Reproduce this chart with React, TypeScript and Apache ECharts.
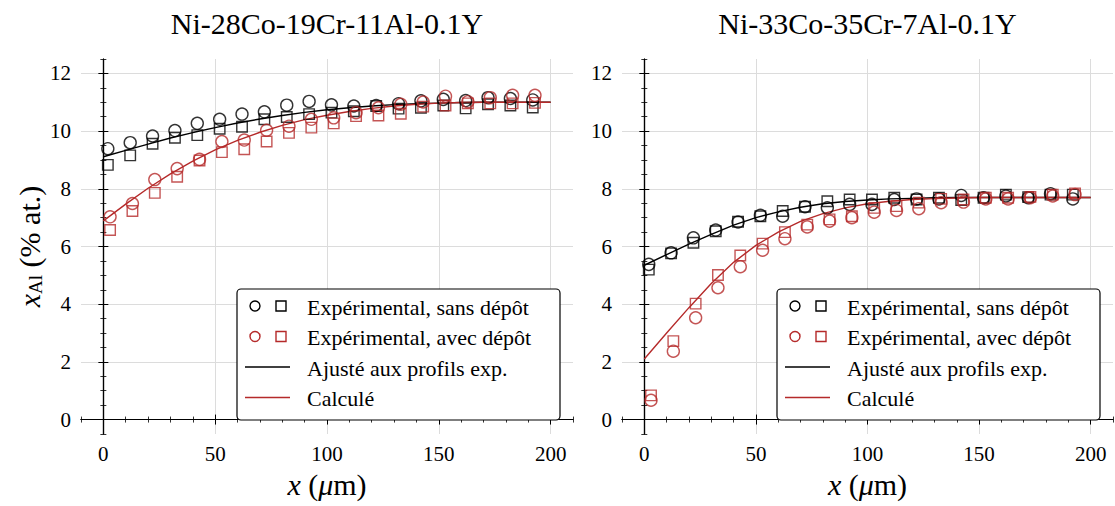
import React, { useEffect, useRef } from "react";
import * as echarts from "echarts";

const FONT = "Liberation Serif";
const RED = "#b52a2a";
const BLACK = "#000000";

const titles = ["Ni-28Co-19Cr-11Al-0.1Y", "Ni-33Co-35Cr-7Al-0.1Y"];
const legendLabels = [
  "Expérimental, sans dépôt",
  "Expérimental, avec dépôt",
  "Ajusté aux profils exp.",
  "Calculé",
];
const xTicks = [0, 50, 100, 150, 200];
const yTicks = [0, 2, 4, 6, 8, 10, 12];

const expXBlack = [2, 12, 22, 32, 42, 52, 62, 72, 82, 92, 102, 112, 122, 132, 142, 152, 162, 172, 182, 192];
const expXRed = [3, 13, 23, 33, 43, 53, 63, 73, 83, 93, 103, 113, 123, 133, 143, 153, 163, 173, 183, 193];
const curveX = [0, 10, 20, 30, 40, 50, 60, 70, 80, 90, 100, 110, 120, 130, 140, 150, 160, 170, 180, 190, 200];

// Left panel: Ni-28Co-19Cr-11Al-0.1Y
const leftSansCircle = [9.39, 9.6, 9.83, 10.02, 10.27, 10.41, 10.59, 10.67, 10.9, 11.03, 10.91, 10.87, 10.89, 10.95, 11.05, 11.1, 11.06, 11.16, 11.13, 11.08];
const leftSansSquare = [8.83, 9.16, 9.56, 9.77, 9.86, 10.08, 10.15, 10.41, 10.49, 10.59, 10.64, 10.69, 10.87, 10.78, 10.81, 10.89, 10.79, 10.93, 10.89, 10.82];
const leftAvecCircle = [7.03, 7.49, 8.32, 8.7, 9.02, 9.64, 9.69, 10.03, 10.17, 10.41, 10.46, 10.64, 10.81, 10.93, 11.01, 11.21, 11.02, 11.16, 11.24, 11.24];
const leftAvecSquare = [6.57, 7.23, 7.86, 8.42, 8.98, 9.27, 9.37, 9.64, 9.94, 10.12, 10.27, 10.52, 10.54, 10.6, 10.85, 10.89, 10.96, 10.96, 10.96, 10.98];
const leftFit = [9.11, 9.33, 9.55, 9.76, 9.95, 10.12, 10.28, 10.42, 10.54, 10.65, 10.74, 10.81, 10.87, 10.92, 10.95, 10.97, 10.99, 11.0, 11.0, 11.0, 11.0];
const leftCalc = [6.89, 7.47, 8.02, 8.52, 8.96, 9.35, 9.68, 9.96, 10.2, 10.4, 10.55, 10.68, 10.79, 10.87, 10.93, 10.97, 10.99, 11.0, 11.0, 11.0, 11.0];

// Right panel: Ni-33Co-35Cr-7Al-0.1Y
const rightSansCircle = [5.38, 5.78, 6.3, 6.57, 6.85, 7.08, 7.05, 7.38, 7.34, 7.46, 7.46, 7.63, 7.65, 7.65, 7.77, 7.69, 7.75, 7.69, 7.83, 7.65];
const rightSansSquare = [5.2, 5.76, 6.13, 6.53, 6.86, 7.05, 7.23, 7.38, 7.57, 7.63, 7.63, 7.69, 7.63, 7.69, 7.61, 7.69, 7.8, 7.71, 7.8, 7.8];
const rightAvecCircle = [0.67, 2.37, 3.53, 4.57, 5.3, 5.87, 6.27, 6.68, 6.88, 7.0, 7.19, 7.25, 7.31, 7.52, 7.54, 7.65, 7.65, 7.69, 7.75, 7.8];
const rightAvecSquare = [0.84, 2.72, 4.02, 5.01, 5.69, 6.1, 6.5, 6.76, 6.94, 7.05, 7.34, 7.4, 7.52, 7.65, 7.63, 7.69, 7.69, 7.72, 7.8, 7.84];
const rightFit = [5.35, 5.72, 6.08, 6.42, 6.74, 7.0, 7.2, 7.36, 7.48, 7.56, 7.61, 7.65, 7.67, 7.69, 7.7, 7.7, 7.7, 7.7, 7.7, 7.7, 7.7];
const rightCalc = [2.1, 3.0, 3.88, 4.72, 5.45, 6.04, 6.5, 6.87, 7.14, 7.34, 7.48, 7.57, 7.63, 7.66, 7.68, 7.7, 7.7, 7.7, 7.7, 7.7, 7.7];

const panels = [
  { sc: leftSansCircle, ss: leftSansSquare, ac: leftAvecCircle, as: leftAvecSquare, fit: leftFit, calc: leftCalc },
  { sc: rightSansCircle, ss: rightSansSquare, ac: rightAvecCircle, as: rightAvecSquare, fit: rightFit, calc: rightCalc },
];

const GRIDS = [
  { left: 81, top: 59, width: 492, height: 375 },
  { left: 622, top: 59, width: 491, height: 375 },
];

const zip = (xs: number[], ys: number[]) => xs.map((x, i) => [x, ys[i]]);

export default function App() {
  const ref = useRef<HTMLDivElement>(null);
  useEffect(() => {
    if (!ref.current) return;
    const chart = echarts.init(ref.current, undefined, { renderer: "svg" });
    const axisLine = { show: true, lineStyle: { color: "#000", width: 1.2 } };
    const xAxes: any[] = [];
    const yAxes: any[] = [];
    GRIDS.forEach((_, g) => {
      const xBase = { type: "value", gridIndex: g, min: -10, max: 210 };
      xAxes.push({
        ...xBase,
        position: "bottom",
        axisLine,
        axisTick: { show: true, length: 5, customValues: xTicks, lineStyle: { color: "#000", width: 1 } },
        axisLabel: { show: true, customValues: xTicks, margin: 9, fontSize: 21, fontFamily: FONT, color: "#000" },
        splitLine: { show: true, lineStyle: { color: "#dcdcdc", width: 1 } },
        name: "{i|x}{n| (}{i|μ}{n|m)}",
        nameLocation: "middle",
        nameGap: 35,
        nameTextStyle: {
          fontSize: 30,
          fontFamily: FONT,
          color: "#000",
          rich: {
            i: { fontSize: 30, fontFamily: FONT, fontStyle: "italic", color: "#000" },
            n: { fontSize: 30, fontFamily: FONT, color: "#000" },
          },
        },
      });
      xAxes.push({
        ...xBase,
        position: "bottom",
        interval: 10,
        axisLine: { show: false },
        axisTick: { show: true, length: 3, lineStyle: { color: "#000", width: 0.8 } },
        axisLabel: { show: false },
        splitLine: { show: false },
      });
      xAxes.push({
        ...xBase,
        position: "top",
        axisLine,
        axisTick: { show: true, length: 5, customValues: xTicks, lineStyle: { color: "#000", width: 1 } },
        axisLabel: { show: false, customValues: xTicks },
        splitLine: { show: false },
      });
      xAxes.push({
        ...xBase,
        position: "top",
        interval: 10,
        axisLine: { show: false },
        axisTick: { show: true, length: 3, lineStyle: { color: "#000", width: 0.8 } },
        axisLabel: { show: false },
        splitLine: { show: false },
      });

      const yBase = { type: "value", gridIndex: g, min: -0.5, max: 12.5 };
      yAxes.push({
        ...yBase,
        position: "left",
        axisLine,
        axisTick: { show: true, length: 5, customValues: yTicks, lineStyle: { color: "#000", width: 1 } },
        axisLabel: { show: true, customValues: yTicks, margin: 10, fontSize: 21, fontFamily: FONT, color: "#000" },
        splitLine: { show: true, lineStyle: { color: "#dcdcdc", width: 1 } },
        ...(g === 0
          ? {
              name: "{i|x}{s|Al}{n| (% at.)}",
              nameLocation: "middle",
              nameGap: 36,
              nameRotate: 90,
              nameTextStyle: {
                fontSize: 30,
                fontFamily: FONT,
                color: "#000",
                rich: {
                  i: { fontSize: 30, fontFamily: FONT, fontStyle: "italic", color: "#000", lineHeight: 32, verticalAlign: "middle" },
                  n: { fontSize: 30, fontFamily: FONT, color: "#000", lineHeight: 32, verticalAlign: "middle" },
                  s: { fontSize: 19, fontFamily: FONT, color: "#000", lineHeight: 14, verticalAlign: "bottom" },
                },
              },
            }
          : {}),
      });
      yAxes.push({
        ...yBase,
        position: "left",
        interval: 0.5,
        axisLine: { show: false },
        axisTick: { show: true, length: 3, lineStyle: { color: "#000", width: 0.8 } },
        axisLabel: { show: false },
        splitLine: { show: false },
      });
      yAxes.push({
        ...yBase,
        position: "right",
        axisLine,
        axisTick: { show: true, length: 5, customValues: yTicks, lineStyle: { color: "#000", width: 1 } },
        axisLabel: { show: false, customValues: yTicks },
        splitLine: { show: false },
      });
      yAxes.push({
        ...yBase,
        position: "right",
        interval: 0.5,
        axisLine: { show: false },
        axisTick: { show: true, length: 3, lineStyle: { color: "#000", width: 0.8 } },
        axisLabel: { show: false },
        splitLine: { show: false },
      });
    });

    const series: any[] = [];
    panels.forEach((p, g) => {
      const idx = { xAxisIndex: 4 * g, yAxisIndex: 4 * g };
      const lineS = (name: string, data: number[], color: string) => ({
        type: "line",
        name,
        ...idx,
        data: zip(curveX, data),
        symbol: "none",
        smooth: false,
        lineStyle: { color, width: 1.4 },
        z: 3,
      });
      const scat = (name: string, xs: number[], ys: number[], color: string, symbol: string, size: number) => ({
        type: "scatter",
        name,
        ...idx,
        data: zip(xs, ys),
        symbol,
        symbolSize: size,
        itemStyle: { color: "rgba(0,0,0,0)", borderColor: color, borderWidth: 1.4 },
        z: 4,
      });
      series.push(lineS(legendLabels[2], p.fit, BLACK));
      series.push(lineS(legendLabels[3], p.calc, RED));
      series.push(scat(legendLabels[0], expXBlack, p.sc, BLACK, "circle", 12));
      series.push(scat(legendLabels[0], expXBlack, p.ss, BLACK, "rect", 10.5));
      series.push(scat(legendLabels[1], expXRed, p.ac, RED, "circle", 12));
      series.push(scat(legendLabels[1], expXRed, p.as, RED, "rect", 10.5));
    });

    const graphics: any[] = [];
    const Z = 100;
    GRIDS.forEach((gr, g) => {
      graphics.push({
        type: "text",
        z: Z,
        style: {
          text: titles[g],
          x: gr.left + gr.width / 2,
          y: 23,
          align: "center",
          verticalAlign: "middle",
          fontSize: 30,
          fontFamily: FONT,
          fill: "#000",
        },
      });
      const bw = 323;
      const bh = 131;
      const bx = gr.left + gr.width - 13 - bw;
      const by = gr.top + gr.height - 14 - bh;
      const rows = [by + 17, by + 47.5, by + 78, by + 108.5];
      graphics.push({
        type: "rect",
        z: Z,
        shape: { x: bx, y: by, width: bw, height: bh, r: 4 },
        style: { fill: "#fff", stroke: "#000", lineWidth: 1.2 },
      });
      [BLACK, RED].forEach((c, i) => {
        graphics.push({
          type: "circle",
          z: Z + 1,
          shape: { cx: bx + 18, cy: rows[i], r: 5 },
          style: { fill: "none", stroke: c, lineWidth: 1.4 },
        });
        graphics.push({
          type: "rect",
          z: Z + 1,
          shape: { x: bx + 39, y: rows[i] - 5, width: 10, height: 10 },
          style: { fill: "none", stroke: c, lineWidth: 1.4 },
        });
      });
      [BLACK, RED].forEach((c, i) => {
        graphics.push({
          type: "line",
          z: Z + 1,
          shape: { x1: bx + 8, y1: rows[i + 2], x2: bx + 53, y2: rows[i + 2] },
          style: { stroke: c, lineWidth: 1.4 },
        });
      });
      legendLabels.forEach((t, i) => {
        graphics.push({
          type: "text",
          z: Z + 1,
          style: {
            text: t,
            x: bx + 70,
            y: rows[i] + 1,
            verticalAlign: "middle",
            fontSize: 22,
            fontFamily: FONT,
            fill: "#000",
          },
        });
      });
    });

    chart.setOption({
      animation: false,
      backgroundColor: "#fff",
      grid: GRIDS.map((g) => ({ ...g, containLabel: false })),
      xAxis: xAxes,
      yAxis: yAxes,
      series,
      graphic: graphics,
    });
    return () => chart.dispose();
  }, []);
  return (
    <div
      ref={ref}
      style={{ position: "absolute", left: 0, top: 0, width: 1115, height: 506 }}
    />
  );
}
